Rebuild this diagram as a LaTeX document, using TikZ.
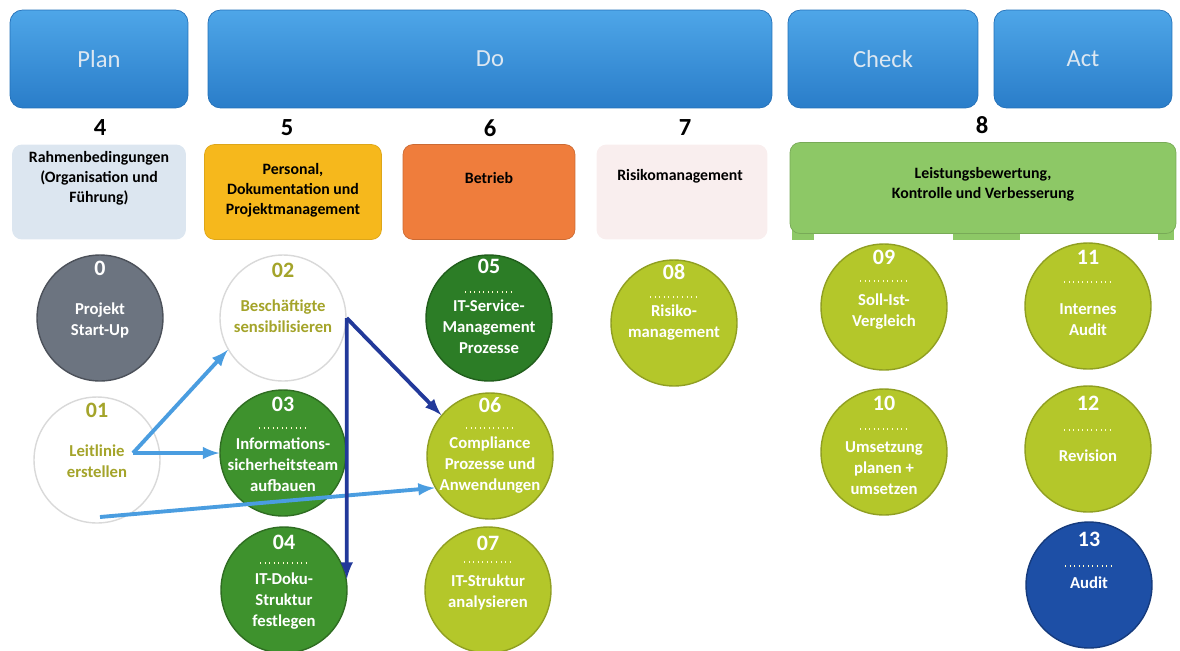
\documentclass[tikz,border=0pt]{standalone}
\usepackage{fontspec}
\setmainfont{Carlito}
\usepackage{tikz}
\usetikzlibrary{positioning, calc, arrows}

\definecolor{phasetop}{HTML}{4EA6E8}
\definecolor{phasebot}{HTML}{2A7DC9}
\definecolor{phaseedge}{HTML}{2370B8}
\definecolor{phasetext}{HTML}{DCE7F1}
\definecolor{rahmen}{HTML}{DCE6F0}
\definecolor{personal}{HTML}{F6B81C}
\definecolor{betrieb}{HTML}{EF7D3C}
\definecolor{risiko}{HTML}{F9EEEE}
\definecolor{leistung}{HTML}{8DC866}
\definecolor{startgrey}{HTML}{6C7480}
\definecolor{taskgreen}{HTML}{3E922D}
\definecolor{taskdeep}{HTML}{2C7D26}
\definecolor{taskyellow}{HTML}{B4C72A}
\definecolor{taskblue}{HTML}{1D4FA6}
\definecolor{olivetext}{HTML}{A4A42A}
\definecolor{lightarrow}{HTML}{4A9DE0}
\definecolor{darkarrow}{HTML}{22399A}

\begin{document}
\begin{tikzpicture}[x=0.02cm, y=-0.02cm,
  phase/.style={rounded corners=0.25cm, draw=phaseedge, top color=phasetop,
    bottom color=phasebot, minimum height=1.96cm, text=phasetext,
    font=\fontsize{14}{16}\selectfont},
  area/.style={rounded corners=0.2cm, minimum height=1.9cm},
  areatxt/.style={align=center, font=\bfseries\fontsize{9}{11.3}\selectfont},
  areanum/.style={font=\bfseries\fontsize{14}{16}\selectfont},
  task/.style={circle, minimum size=2.52cm, inner sep=0pt, line width=0.8pt},
  tasktxt/.style={align=center, text=white, font=\bfseries\fontsize{9.5}{12}\selectfont},
  tasknum/.style={text=white, font=\bfseries\fontsize{12.5}{14}\selectfont},
  dotrule/.style={draw=white!80!yellow, dotted, line width=0.6pt},
  tolight/.style={-latex, line width=2.2pt, draw=lightarrow},
  todark/.style={-latex, line width=2.2pt, draw=darkarrow}]

  \useasboundingbox (0,0) rectangle (1180,650);

  % PDCA phases
  \node[phase, minimum width=3.56cm] (plan) at (99,59) {Plan};
  \node[phase, minimum width=11.28cm] (do) at (490,59) {Do};
  \node[phase, minimum width=3.8cm] (check) at (883,59) {Check};
  \node[phase, minimum width=3.56cm] (act) at (1083,59) {Act};

  % Chapter numbers
  \node[areanum] at (100,128) {4};
  \node[areanum] at (287,128) {5};
  \node[areanum] at (490,128) {6};
  \node[areanum] at (685,128) {7};
  \node[areanum] at (982,125) {8};

  % Chapter boxes
  \node[area, fill=rahmen, minimum width=3.48cm] (a4) at (99,192) {};
  \node[area, fill=personal, draw=personal!90!black, minimum width=3.54cm] (a5) at (293,192) {};
  \node[area, fill=betrieb, draw=betrieb!85!black, minimum width=3.44cm] (a6) at (489,192) {};
  \node[area, fill=risiko, minimum width=3.42cm] (a7) at (682,192) {};
  \fill[leistung] (792,228) rectangle (814,240);
  \fill[leistung] (953,228) rectangle (1020,240);
  \fill[leistung] (1158,228) rectangle (1174,240);
  \node[area, fill=leistung, draw=leistung!85!black, minimum width=7.72cm,
    minimum height=1.82cm] (a8) at (983,188) {};

  \node[areatxt] at (99,178) {Rahmenbedingungen\\(Organisation und\\Führung)};
  \node[areatxt] at (293,190) {Personal,\\Dokumentation und\\Projektmanagement};
  \node[areatxt] at (489,178) {Betrieb};
  \node[areatxt] at (680,176) {Risikomanagement};
  \node[areatxt] at (983,184) {Leistungsbewertung,\\Kontrolle und Verbesserung};

  % Steps
  \node[task, fill=startgrey, draw=startgrey!70!black] (c0) at (100,318) {};
  \node[task, fill=white, draw=gray!30] (c02) at (283,318) {};
  \node[task, fill=white, draw=gray!30] (c01) at (97,460) {};
  \node[task, fill=taskgreen, draw=taskgreen!75!black] (c03) at (283,453) {};
  \node[task, fill=taskgreen, draw=taskgreen!75!black] (c04) at (284,590) {};
  \node[task, fill=taskdeep, draw=taskdeep!75!black] (c05) at (489,318) {};
  \node[task, fill=taskyellow, draw=taskyellow!80!black] (c06) at (490,456) {};
  \node[task, fill=taskyellow, draw=taskyellow!80!black] (c07) at (488,590) {};
  \node[task, fill=taskyellow, draw=taskyellow!80!black] (c08) at (674,323) {};
  \node[task, fill=taskyellow, draw=taskyellow!80!black] (c09) at (884,307) {};
  \node[task, fill=taskyellow, draw=taskyellow!80!black] (c11) at (1088,306) {};
  \node[task, fill=taskyellow, draw=taskyellow!80!black] (c10) at (884,452) {};
  \node[task, fill=taskyellow, draw=taskyellow!80!black] (c12) at (1088,449) {};
  \node[task, fill=taskblue, draw=taskblue!75!black] (c13) at (1089,585) {};

  % Step numbers
  \node[tasknum] at ($(c0)+(0,-50)$) {0};
  \node[tasknum, text=olivetext] at ($(c02)+(0,-48)$) {02};
  \node[tasknum, text=olivetext] at ($(c01)+(0,-50)$) {01};
  \node[tasknum] at ($(c03)+(0,-49)$) {03};
  \node[tasknum] at ($(c04)+(0,-48)$) {04};
  \node[tasknum] at ($(c05)+(0,-52)$) {05};
  \node[tasknum] at ($(c06)+(0,-51)$) {06};
  \node[tasknum] at ($(c07)+(0,-47)$) {07};
  \node[tasknum] at ($(c08)+(0,-51)$) {08};
  \node[tasknum] at ($(c09)+(0,-50)$) {09};
  \node[tasknum] at ($(c11)+(0,-49)$) {11};
  \node[tasknum] at ($(c10)+(0,-49)$) {10};
  \node[tasknum] at ($(c12)+(0,-46)$) {12};
  \node[tasknum] at ($(c13)+(0,-46)$) {13};

  % Dotted separators
  \draw[dotrule] ($(c03)+(-24,-25)$) -- ++(48,0);
  \draw[dotrule] ($(c04)+(-24,-27)$) -- ++(48,0);
  \draw[dotrule] ($(c05)+(-24,-26)$) -- ++(48,0);
  \draw[dotrule] ($(c06)+(-24,-28)$) -- ++(48,0);
  \draw[dotrule] ($(c07)+(-24,-28)$) -- ++(48,0);
  \draw[dotrule] ($(c08)+(-24,-26)$) -- ++(48,0);
  \draw[dotrule] ($(c09)+(-24,-26)$) -- ++(48,0);
  \draw[dotrule] ($(c11)+(-24,-24)$) -- ++(48,0);
  \draw[dotrule] ($(c10)+(-24,-23)$) -- ++(48,0);
  \draw[dotrule] ($(c12)+(-24,-19)$) -- ++(48,0);
  \draw[dotrule] ($(c13)+(-24,-19)$) -- ++(48,0);

  % Step texts
  \node[tasktxt] at ($(c0)+(0,2)$) {Projekt\\Start-Up};
  \node[tasktxt, text=olivetext] at ($(c02)+(0,-2)$) {Beschäftigte\\sensibilisieren};
  \node[tasktxt, text=olivetext] at ($(c01)+(0,1)$) {Leitlinie\\erstellen};
  \node[tasktxt] at ($(c03)+(0,12)$) {Informations-\\sicherheitsteam\\aufbauen};
  \node[tasktxt] at ($(c04)+(0,11)$) {IT-Doku-\\Struktur\\festlegen};
  \node[tasktxt] at ($(c05)+(0,9)$) {IT-Service-\\Management\\Prozesse};
  \node[tasktxt] at ($(c06)+(0,9)$) {Compliance\\Prozesse und\\Anwendungen};
  \node[tasktxt] at ($(c07)+(0,2)$) {IT-Struktur\\analysieren};
  \node[tasktxt] at ($(c08)+(0,0)$) {Risiko-\\management};
  \node[tasktxt] at ($(c09)+(0,5)$) {Soll-Ist-\\Vergleich};
  \node[tasktxt] at ($(c11)+(0,14)$) {Internes\\Audit};
  \node[tasktxt] at ($(c10)+(0,16)$) {Umsetzung\\planen +\\umsetzen};
  \node[tasktxt] at ($(c12)+(0,7)$) {Revision};
  \node[tasktxt] at ($(c13)+(0,-2)$) {Audit};

  % Connectors
  \coordinate (split01) at (133,453);
  \coordinate (foot01) at (100,517);
  \draw[tolight] (split01) -- (c02.210);
  \draw[tolight] (split01) -- (c03.west);
  \draw[tolight] (foot01) -- (c06.210);
  \draw[todark] (c02.east) -- (c04.10);
  \draw[todark] (c02.east) -- (c06.140);
\end{tikzpicture}
\end{document}
